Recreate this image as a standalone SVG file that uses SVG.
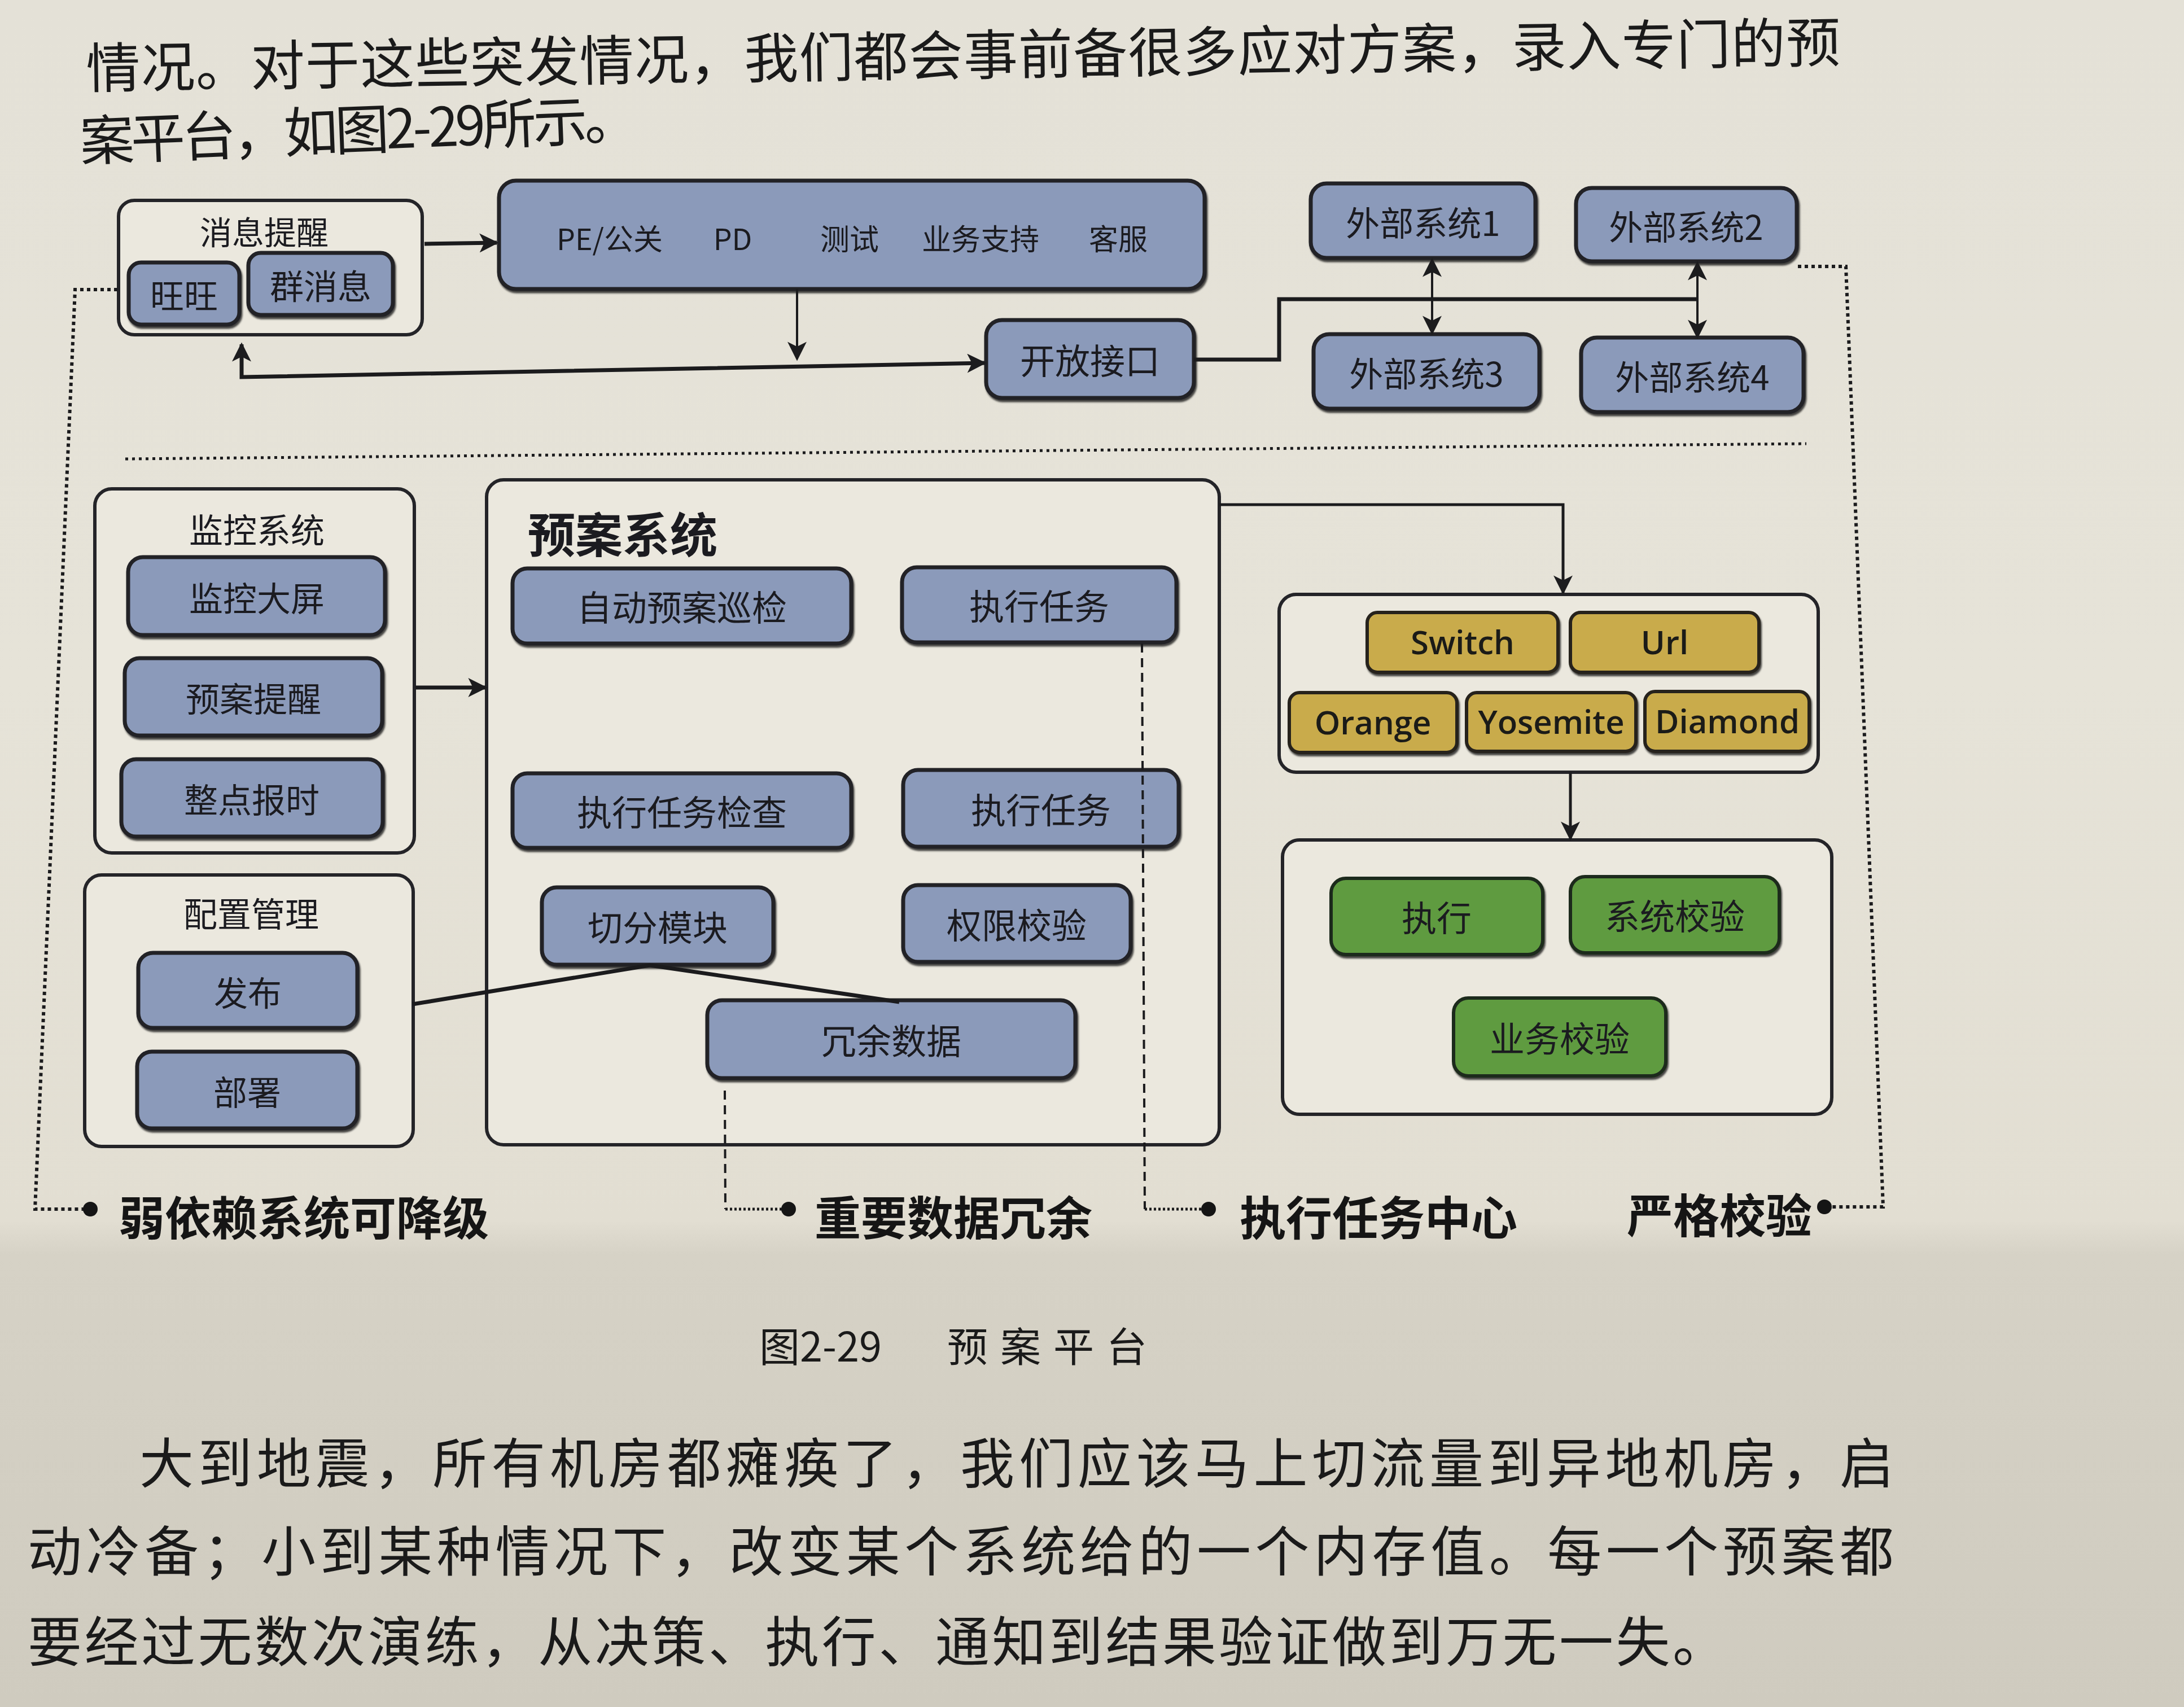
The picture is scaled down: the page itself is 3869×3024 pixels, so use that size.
<svg xmlns="http://www.w3.org/2000/svg" width="3869" height="3024" viewBox="0 0 3869 3024">
<defs>
<linearGradient id="bg" x1="0" y1="0" x2="0" y2="1">
<stop offset="0" stop-color="#e4e1d7"/>
<stop offset="0.4" stop-color="#e6e3d8"/>
<stop offset="0.715" stop-color="#e2ded2"/>
<stop offset="0.735" stop-color="#d6d2c6"/>
<stop offset="1" stop-color="#cfcbbf"/>
</linearGradient>
<marker id="ah" viewBox="0 0 10 10" refX="9" refY="5" markerWidth="36" markerHeight="34" markerUnits="userSpaceOnUse" orient="auto-start-reverse">
<path d="M0,0 L10,5 L0,10 L2.5,5 z" fill="#1c1c1e"/>
</marker>
<filter id="sh" x="-5%" y="-5%" width="115%" height="125%">
<feDropShadow dx="2" dy="4" stdDeviation="1.5" flood-color="#1a1a1a" flood-opacity="0.8"/>
</filter>
</defs>
<style>
.box{fill:#8b9aba;stroke:#212126;stroke-width:7;filter:url(#sh)}
.yel{fill:#c9ab4c;stroke:#26231c;stroke-width:6;filter:url(#sh)}
.grn{fill:#5e9b41;stroke:#1f2a1a;stroke-width:6;filter:url(#sh)}
.ct{fill:#ebe8de;stroke:#242428;stroke-width:6}
.t{font-family:"Noto Sans CJK SC","Noto Sans",sans-serif;font-size:60px;fill:#1b1b20;text-anchor:middle;dominant-baseline:central}
.s52{font-size:52px}
.s57{font-size:57px}
.s62{font-size:62px}
.title{font-size:84px;font-weight:600;text-anchor:start}
.lt{font-family:"Open Sans","Noto Sans CJK SC",sans-serif;font-size:58px;font-weight:600;fill:#1b1b18;text-anchor:middle;dominant-baseline:central}
.c{fill:none;stroke:#1b1b1d;stroke-width:7}
.thin{fill:none;stroke:#1b1b1d;stroke-width:4}
.mid{fill:none;stroke:#1b1b1d;stroke-width:5}
.dot{fill:none;stroke:#1b1b1d;stroke-width:6;stroke-dasharray:6 6}
.sep{fill:none;stroke:#1b1b1d;stroke-width:5;stroke-dasharray:5 7}
.dash{fill:none;stroke:#1b1b1d;stroke-width:4;stroke-dasharray:16 10}
.fine{fill:none;stroke:#1b1b1d;stroke-width:5;stroke-dasharray:4 4}
.lab{font-family:"Noto Sans CJK SC",sans-serif;font-size:82px;font-weight:700;fill:#151515;dominant-baseline:central}
.body{font-family:"Noto Sans CJK SC",sans-serif;font-size:96px;fill:#1a1a1a}
.cap{font-family:"Noto Sans CJK SC",sans-serif;font-size:72px;fill:#1a1a1a;dominant-baseline:central}
</style>
<rect x="0" y="0" width="3869" height="3024" fill="url(#bg)"/>

<g id="text-top">
<text class="body" x="153" y="156" textLength="3108" lengthAdjust="spacing" transform="rotate(-0.85 153 156)">情况。对于这些突发情况，我们都会事前备很多应对方案，录入专门的预</text>
<text class="body" x="143" y="285" textLength="990" lengthAdjust="spacing" transform="rotate(-2.3 143 285)">案平台，如图2-29所示。</text>
</g>

<g id="msg">
<rect class="ct" x="210" y="355" width="538" height="238" rx="28"/>
<text class="t s57" x="468" y="408">消息提醒</text>
</g>
<g id="wangwang"><rect class="box" x="228" y="465" width="196" height="110" rx="22"/><text class="t" x="326" y="520">旺旺</text></g>
<g id="qunxiaoxi"><rect class="box" x="440" y="448" width="256" height="110" rx="22"/><text class="t" x="568" y="503">群消息</text></g>

<g id="roles">
<rect class="box" x="884" y="320" width="1250" height="192" rx="30"/>
<text class="t s52" x="1080" y="420">PE/公关</text>
<text class="t s52" x="1298" y="420">PD</text>
<text class="t s52" x="1505" y="420">测试</text>
<text class="t s52" x="1737" y="420">业务支持</text>
<text class="t s52" x="1981" y="420">客服</text>
</g>
<g id="openapi"><rect class="box" x="1747" y="567" width="368" height="138" rx="28"/><text class="t s62" x="1931" y="636">开放接口</text></g>
<g id="ext1"><rect class="box" x="2322" y="325" width="398" height="132" rx="28"/><text class="t" x="2521" y="391">外部系统1</text></g>
<g id="ext2"><rect class="box" x="2792" y="333" width="391" height="130" rx="28"/><text class="t" x="2987" y="398">外部系统2</text></g>
<g id="ext3"><rect class="box" x="2327" y="592" width="400" height="132" rx="28"/><text class="t" x="2527" y="658">外部系统3</text></g>
<g id="ext4"><rect class="box" x="2801" y="598" width="394" height="132" rx="28"/><text class="t" x="2998" y="664">外部系统4</text></g>

<g id="monitor">
<rect class="ct" x="168" y="866" width="566" height="645" rx="30"/>
<text class="t" x="455" y="935">监控系统</text>
</g>
<g id="jkdp"><rect class="box" x="227" y="987" width="455" height="138" rx="26"/><text class="t" x="455" y="1056">监控大屏</text></g>
<g id="yatx"><rect class="box" x="221" y="1166" width="456" height="137" rx="26"/><text class="t" x="449" y="1234">预案提醒</text></g>
<g id="zdbs"><rect class="box" x="215" y="1345" width="463" height="137" rx="26"/><text class="t" x="446" y="1413">整点报时</text></g>

<g id="config">
<rect class="ct" x="150" y="1550" width="582" height="481" rx="30"/>
<text class="t" x="445" y="1615">配置管理</text>
</g>
<g id="fabu"><rect class="box" x="245" y="1688" width="388" height="133" rx="26"/><text class="t" x="439" y="1755">发布</text></g>
<g id="bushu"><rect class="box" x="243" y="1863" width="390" height="136" rx="26"/><text class="t" x="438" y="1931">部署</text></g>

<g id="plan">
<rect class="ct" x="862" y="850" width="1298" height="1178" rx="30"/>
<text class="t title" x="935" y="942">预案系统</text>
</g>
<g id="zdxj"><rect class="box" x="908" y="1007" width="600" height="133" rx="26"/><text class="t s62" x="1208" y="1073">自动预案巡检</text></g>
<g id="zxrw1"><rect class="box" x="1598" y="1005" width="486" height="133" rx="26"/><text class="t s62" x="1841" y="1071">执行任务</text></g>
<g id="zxjc"><rect class="box" x="908" y="1370" width="600" height="132" rx="26"/><text class="t s62" x="1208" y="1436">执行任务检查</text></g>
<g id="zxrw2"><rect class="box" x="1600" y="1364" width="488" height="136" rx="26"/><text class="t s62" x="1844" y="1432">执行任务</text></g>
<g id="qfmk"><rect class="box" x="960" y="1572" width="410" height="137" rx="26"/><text class="t s62" x="1165" y="1640">切分模块</text></g>
<g id="qxjy"><rect class="box" x="1600" y="1568" width="403" height="136" rx="26"/><text class="t s62" x="1801" y="1636">权限校验</text></g>
<g id="rysj"><rect class="box" x="1253" y="1772" width="652" height="138" rx="26"/><text class="t s62" x="1579" y="1841">冗余数据</text></g>

<g id="switches">
<rect class="ct" x="2266" y="1053" width="955" height="315" rx="30"/>
</g>
<g id="sw"><rect class="yel" x="2422" y="1085" width="338" height="106" rx="18"/><text class="lt" x="2591" y="1136">Switch</text></g>
<g id="url"><rect class="yel" x="2782" y="1085" width="334" height="106" rx="18"/><text class="lt" x="2949" y="1136">Url</text></g>
<g id="orange"><rect class="yel" x="2284" y="1227" width="297" height="106" rx="18"/><text class="lt" x="2432" y="1278">Orange</text></g>
<g id="yosemite"><rect class="yel" x="2598" y="1227" width="300" height="104" rx="18"/><text class="lt" x="2748" y="1277">Yosemite</text></g>
<g id="diamond"><rect class="yel" x="2914" y="1225" width="291" height="106" rx="18"/><text class="lt" x="3060" y="1276">Diamond</text></g>

<g id="checks">
<rect class="ct" x="2272" y="1488" width="973" height="486" rx="30"/>
</g>
<g id="zx"><rect class="grn" x="2358" y="1556" width="375" height="135" rx="26"/><text class="t s62" x="2545" y="1623">执行</text></g>
<g id="xtjy"><rect class="grn" x="2782" y="1553" width="370" height="135" rx="26"/><text class="t s62" x="2967" y="1620">系统校验</text></g>
<g id="ywjy"><rect class="grn" x="2575" y="1768" width="376" height="138" rx="26"/><text class="t s62" x="2763" y="1837">业务校验</text></g>

<g id="connectors">
<path class="c" d="M752 432 L880 430" marker-end="url(#ah)"/>
<path class="thin" d="M1412 512 L1412 636" marker-end="url(#ah)"/>
<path class="c" d="M428 610 L428 668 L1744 643" marker-start="url(#ah)" marker-end="url(#ah)"/>
<path class="c" d="M2115 637 L2266 637 L2266 530 L3007 530"/>
<path class="thin" d="M2537 460 L2537 590" marker-start="url(#ah)" marker-end="url(#ah)"/>
<path class="thin" d="M3007 466 L3007 597" marker-start="url(#ah)" marker-end="url(#ah)"/>
<path class="c" d="M736 1218 L860 1218" marker-end="url(#ah)"/>
<path class="c" d="M731 1779 L1151 1710 L1593 1775"/>
<path class="mid" d="M2160 894 L2769 894 L2769 1050" marker-end="url(#ah)"/>
<path class="mid" d="M2782 1368 L2782 1486" marker-end="url(#ah)"/>
<path class="dot" d="M208 513 L133 513 L62 2142 L148 2142"/>
<path class="dot" d="M3185 472 L3270 472 L3336 2138 L3245 2138"/>
<path class="sep" d="M222 813 L3200 786"/>
<path class="dash" d="M2023 1140 L2028 2142"/>
<path class="fine" d="M2028 2142 L2128 2142"/>
<path class="dash" d="M1284 1932 L1285 2142"/>
<path class="fine" d="M1285 2142 L1385 2142"/>
<circle cx="160" cy="2142" r="13" fill="#151515"/>
<circle cx="1397" cy="2142" r="13" fill="#151515"/>
<circle cx="2141" cy="2142" r="13" fill="#151515"/>
<circle cx="3232" cy="2138" r="13" fill="#151515"/>
</g>

<g id="labels">
<text class="lab" x="210" y="2152">弱依赖系统可降级</text>
<text class="lab" x="1443" y="2152">重要数据冗余</text>
<text class="lab" x="2196" y="2152">执行任务中心</text>
<text class="lab" x="2882" y="2148">严格校验</text>
</g>

<g id="caption">
<text class="cap" x="1345" y="2380">图2-29</text>
<text class="cap" x="1678" y="2380" letter-spacing="22">预案平台</text>
</g>

<g id="text-bottom">
<text class="body" x="247" y="2627" textLength="3108" lengthAdjust="spacing">大到地震，所有机房都瘫痪了，我们应该马上切流量到异地机房，启</text>
<text class="body" x="49" y="2783" textLength="3306" lengthAdjust="spacing">动冷备；小到某种情况下，改变某个系统给的一个内存值。每一个预案都</text>
<text class="body" x="49" y="2943" textLength="3010" lengthAdjust="spacing">要经过无数次演练，从决策、执行、通知到结果验证做到万无一失。</text>
</g>
</svg>
